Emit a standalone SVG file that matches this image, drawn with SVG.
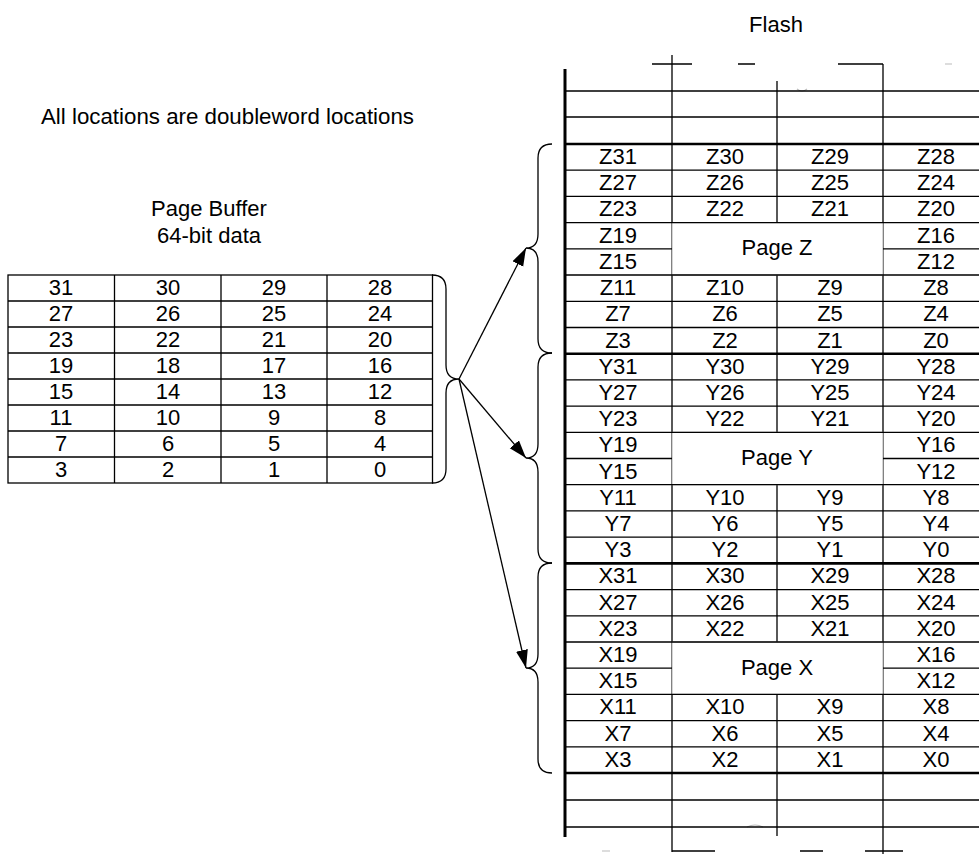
<svg xmlns="http://www.w3.org/2000/svg" width="979" height="854" viewBox="0 0 979 854">
<style>
text{font-family:"Liberation Sans",Arial,sans-serif;font-size:22px;fill:#000;text-anchor:middle}
.l{stroke:#000;stroke-width:1.3;fill:none}
.k{stroke:#000;stroke-width:2.6;fill:none}
.b{stroke:#000;stroke-width:1.3;fill:none}
.g{stroke:#bbb;stroke-width:1.2;fill:none}
.pg{fill:#fff;stroke:#aaa;stroke-width:1}
</style>
<defs>
<marker id="ah" markerUnits="userSpaceOnUse" markerWidth="19" markerHeight="13" refX="18" refY="6" orient="auto">
<path d="M0,0 L18,6 L0,12 z" fill="#000"/>
</marker>
</defs>
<rect width="979" height="854" fill="#fff"/>

<g id="titles">
<text x="776" y="32">Flash</text>
<text x="41" y="124" style="text-anchor:start" textLength="373" lengthAdjust="spacingAndGlyphs">All locations are doubleword locations</text>
<text x="209" y="216">Page Buffer</text>
<text x="209" y="243">64-bit data</text>
</g>

<g id="page-buffer">
<rect x="8" y="275" width="424.5" height="208" class="l"/>
<path class="l" d="M114.5,275V483M221,275V483M327,275V483M8,301H432.5M8,327H432.5M8,353H432.5M8,379H432.5M8,405H432.5M8,431H432.5M8,457H432.5"/>
<g>
<text x="61" y="295">31</text><text x="168" y="295">30</text><text x="274" y="295">29</text><text x="380" y="295">28</text>
<text x="61" y="321">27</text><text x="168" y="321">26</text><text x="274" y="321">25</text><text x="380" y="321">24</text>
<text x="61" y="347">23</text><text x="168" y="347">22</text><text x="274" y="347">21</text><text x="380" y="347">20</text>
<text x="61" y="373">19</text><text x="168" y="373">18</text><text x="274" y="373">17</text><text x="380" y="373">16</text>
<text x="61" y="399">15</text><text x="168" y="399">14</text><text x="274" y="399">13</text><text x="380" y="399">12</text>
<text x="61" y="425">11</text><text x="168" y="425">10</text><text x="274" y="425">9</text><text x="380" y="425">8</text>
<text x="61" y="451">7</text><text x="168" y="451">6</text><text x="274" y="451">5</text><text x="380" y="451">4</text>
<text x="61" y="477">3</text><text x="168" y="477">2</text><text x="274" y="477">1</text><text x="380" y="477">0</text>
</g>
<path class="b" d="M432,275 Q446,275 446,289 L446,365 Q446,379 459,379 Q446,379 446,393 L446,469 Q446,483 432,483"/>
</g>

<g id="flash">
<path class="l" d="M672,55V852M777,81V836M883,64V854"/>
<path stroke="#000" stroke-width="3" d="M565,69V837"/>
<path class="l" d="M652,64H692M738,64H755M838,64H883M672,851H715M800,851H823M865,851H903"/>
<path class="g" d="M945,64H952M602,851H610M797,89Q802,93 807,89M747,827Q755,823 763,827"/>
<path class="l" d="M565,91H979M565,117H979M565,800H979M565,827H979"/>
</g>

<g id="page-z">
<rect class="pg" x="672" y="222.6" width="211" height="52.4"/>
<text x="777" y="255">Page Z</text>
</g>
<g id="page-y">
<rect class="pg" x="672" y="432.3" width="211" height="52.4"/>
<text x="777" y="465">Page Y</text>
</g>
<g id="page-x">
<rect class="pg" x="672" y="642" width="211" height="52.4"/>
<text x="777" y="675">Page X</text>
</g>

<g id="flash-rows">
<path class="k" d="M565,144H979M565,353.7H979M565,563.4H979M565,773H979"/>
<path class="l" d="M565,170.2H979M565,196.4H979M565,222.6H979M565,248.8H672M883,248.8H979M565,275H979M565,301.3H979M565,327.5H979
M565,379.9H979M565,406.1H979M565,432.3H979M565,458.5H672M883,458.5H979M565,484.7H979M565,510.9H979M565,537.2H979
M565,589.6H979M565,615.8H979M565,642H979M565,668.2H672M883,668.2H979M565,694.4H979M565,720.6H979M565,746.8H979"/>
<g>
<text x="618" y="164">Z31</text><text x="725" y="164">Z30</text><text x="830" y="164">Z29</text><text x="936" y="164">Z28</text>
<text x="618" y="190.2">Z27</text><text x="725" y="190.2">Z26</text><text x="830" y="190.2">Z25</text><text x="936" y="190.2">Z24</text>
<text x="618" y="216.4">Z23</text><text x="725" y="216.4">Z22</text><text x="830" y="216.4">Z21</text><text x="936" y="216.4">Z20</text>
<text x="618" y="242.6">Z19</text><text x="936" y="242.6">Z16</text>
<text x="618" y="268.8">Z15</text><text x="936" y="268.8">Z12</text>
<text x="618" y="295">Z11</text><text x="725" y="295">Z10</text><text x="830" y="295">Z9</text><text x="936" y="295">Z8</text>
<text x="618" y="321.3">Z7</text><text x="725" y="321.3">Z6</text><text x="830" y="321.3">Z5</text><text x="936" y="321.3">Z4</text>
<text x="618" y="347.5">Z3</text><text x="725" y="347.5">Z2</text><text x="830" y="347.5">Z1</text><text x="936" y="347.5">Z0</text>

<text x="618" y="373.7">Y31</text><text x="725" y="373.7">Y30</text><text x="830" y="373.7">Y29</text><text x="936" y="373.7">Y28</text>
<text x="618" y="399.9">Y27</text><text x="725" y="399.9">Y26</text><text x="830" y="399.9">Y25</text><text x="936" y="399.9">Y24</text>
<text x="618" y="426.1">Y23</text><text x="725" y="426.1">Y22</text><text x="830" y="426.1">Y21</text><text x="936" y="426.1">Y20</text>
<text x="618" y="452.3">Y19</text><text x="936" y="452.3">Y16</text>
<text x="618" y="478.5">Y15</text><text x="936" y="478.5">Y12</text>
<text x="618" y="504.7">Y11</text><text x="725" y="504.7">Y10</text><text x="830" y="504.7">Y9</text><text x="936" y="504.7">Y8</text>
<text x="618" y="530.9">Y7</text><text x="725" y="530.9">Y6</text><text x="830" y="530.9">Y5</text><text x="936" y="530.9">Y4</text>
<text x="618" y="557.2">Y3</text><text x="725" y="557.2">Y2</text><text x="830" y="557.2">Y1</text><text x="936" y="557.2">Y0</text>

<text x="618" y="583.4">X31</text><text x="725" y="583.4">X30</text><text x="830" y="583.4">X29</text><text x="936" y="583.4">X28</text>
<text x="618" y="609.6">X27</text><text x="725" y="609.6">X26</text><text x="830" y="609.6">X25</text><text x="936" y="609.6">X24</text>
<text x="618" y="635.8">X23</text><text x="725" y="635.8">X22</text><text x="830" y="635.8">X21</text><text x="936" y="635.8">X20</text>
<text x="618" y="662">X19</text><text x="936" y="662">X16</text>
<text x="618" y="688.2">X15</text><text x="936" y="688.2">X12</text>
<text x="618" y="714.4">X11</text><text x="725" y="714.4">X10</text><text x="830" y="714.4">X9</text><text x="936" y="714.4">X8</text>
<text x="618" y="740.6">X7</text><text x="725" y="740.6">X6</text><text x="830" y="740.6">X5</text><text x="936" y="740.6">X4</text>
<text x="618" y="766.8">X3</text><text x="725" y="766.8">X2</text><text x="830" y="766.8">X1</text><text x="936" y="766.8">X0</text>
</g>
</g>

<g id="braces">
<path class="b" d="M552,144 Q538,144 538,158 L538,234 Q538,248 526,248 Q538,248 538,262 L538,339 Q538,353 552,353"/>
<path class="b" d="M552,353 Q538,353 538,367 L538,444 Q538,458 526,458 Q538,458 538,472 L538,549 Q538,563 552,563"/>
<path class="b" d="M552,563 Q538,563 538,577 L538,654 Q538,668 526,668 Q538,668 538,682 L538,759 Q538,773 552,773"/>
</g>

<g id="connectors">
<path class="l" d="M459,379 L526,248" marker-end="url(#ah)"/>
<path class="l" d="M459,379 L526,458" marker-end="url(#ah)"/>
<path class="l" d="M459,379 L526,668" marker-end="url(#ah)"/>
</g>
</svg>
